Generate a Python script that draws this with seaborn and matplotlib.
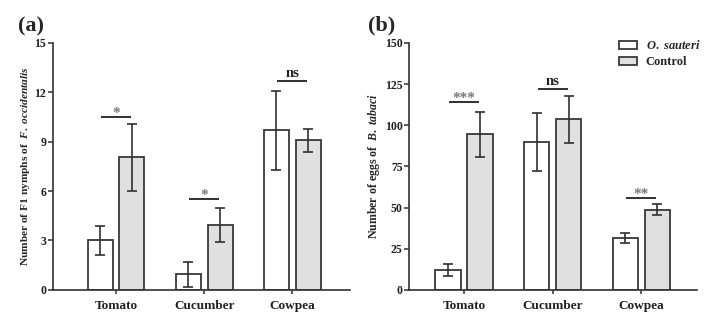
import numpy as np
import pandas as pd
import matplotlib
matplotlib.use("Agg")
import matplotlib.pyplot as plt
import seaborn as sns
from matplotlib.patches import Patch

sns.set_theme(style="ticks")
plt.rcParams["font.family"] = ["Liberation Serif", "DejaVu Serif"]
plt.rcParams["font.weight"] = "bold"
plt.rcParams["mathtext.fontset"] = "custom"
plt.rcParams["mathtext.it"] = "Liberation Serif:italic:bold"
plt.rcParams["mathtext.rm"] = "Liberation Serif:bold"

crops = ["Tomato", "Cucumber", "Cowpea"]
treatments = ["O. sauteri", "Control"]

# (a) F1 nymphs of F. occidentalis
nymph_sauteri = [3.0, 0.95, 9.7]
nymph_sauteri_sd = [0.9, 0.75, 2.4]
nymph_control = [8.05, 3.95, 9.1]
nymph_control_sd = [2.05, 1.05, 0.7]
nymph_sig = ["*", "*", "ns"]
nymph_sig_y = [10.5, 5.5, 12.7]

# (b) eggs of B. tabaci
egg_sauteri = [12.0, 90.0, 31.5]
egg_sauteri_sd = [3.8, 17.5, 3.2]
egg_control = [94.5, 103.5, 48.8]
egg_control_sd = [13.5, 14.5, 3.2]
egg_sig = ["***", "ns", "**"]
egg_sig_y = [114, 122, 56]

colors = {"O. sauteri": "white", "Control": "#e0e0e0"}
edge = "#383838"


def draw(ax, s_mean, s_sd, c_mean, c_sd, sig, sig_y, ymax, step, ylabel, lsize):
    df = pd.DataFrame({
        "crop": crops * 2,
        "treatment": [treatments[0]] * 3 + [treatments[1]] * 3,
        "mean": list(s_mean) + list(c_mean),
        "sd": list(s_sd) + list(c_sd),
    })
    sns.barplot(data=df, x="crop", y="mean", hue="treatment", order=crops,
                hue_order=treatments, palette=colors, width=0.72, gap=0.21,
                edgecolor=edge, linewidth=1.3, errorbar=None, legend=False, ax=ax)
    # error bars placed at each bar's centre
    for cont, (_, sub) in zip(ax.containers, df.groupby("treatment", sort=False)):
        for patch, (_, row) in zip(cont.patches, sub.iterrows()):
            xc = patch.get_x() + patch.get_width() / 2
            ax.errorbar(xc, row["mean"], yerr=row["sd"], fmt="none",
                        ecolor="#303030", elinewidth=1.2, capsize=3.6,
                        capthick=1.2, zorder=5)
    # significance brackets
    for i, (lab, yy) in enumerate(zip(sig, sig_y)):
        ax.plot([i - 0.17, i + 0.17], [yy, yy], color="#202020", lw=1.3,
                solid_capstyle="butt")
        if lab == "ns":
            ax.text(i, yy + ymax * 0.004, lab, ha="center", va="bottom",
                    fontsize=10.5, fontweight="bold", color="#202020")
        else:
            ax.text(i, yy - ymax * 0.012, lab, ha="center", va="bottom",
                    fontsize=11, fontweight="bold", color="#7a7a7a")
    ax.set_ylim(0, ymax)
    ax.set_yticks(np.arange(0, ymax + 0.01, step))
    ax.set_xlabel("")
    ax.set_ylabel(ylabel, fontsize=lsize, fontweight="bold", labelpad=2)
    sns.despine(ax=ax)
    for sp in ("left", "bottom"):
        ax.spines[sp].set_color("#303030")
        ax.spines[sp].set_linewidth(1.2)
    ax.tick_params(axis="both", colors="#303030", width=1.1, length=3.5,
                   labelcolor="#202020")
    ax.tick_params(axis="y", labelsize=8.5, pad=1.2, length=3.5)
    ax.tick_params(axis="x", length=3, labelsize=9.5, pad=4)
    for t in ax.get_xticklabels() + ax.get_yticklabels():
        t.set_fontweight("bold")


fig = plt.figure(figsize=(7.24, 3.25), dpi=100)
ax1 = fig.add_axes([0.073, 0.108, 0.410, 0.760])
ax2 = fig.add_axes([0.565, 0.108, 0.398, 0.760])

draw(ax1, nymph_sauteri, nymph_sauteri_sd, nymph_control, nymph_control_sd,
     nymph_sig, nymph_sig_y, 15, 3,
     r"Number of F1 nymphs of  $\mathit{F.\ occidentalis}$", 8.2)
ax1.set_xlim(-0.716, 2.65)

draw(ax2, egg_sauteri, egg_sauteri_sd, egg_control, egg_control_sd,
     egg_sig, egg_sig_y, 150, 25,
     r"Number of eggs of  $\mathit{B.\ tabaci}$", 8.6)
ax2.set_xlim(-0.62, 2.63)

handles = [Patch(facecolor=colors[t], edgecolor=edge, linewidth=1.3) for t in treatments]
leg = ax2.legend(handles, [r"$\mathit{O.\ sauteri}$", "Control"],
                 loc="upper right", bbox_to_anchor=(1.05, 1.06), frameon=False,
                 fontsize=9, handlelength=1.4, handleheight=0.6,
                 handletextpad=0.7, labelspacing=0.3)
for t in leg.get_texts():
    t.set_fontweight("bold")

fig.text(0.043, 0.918, "(a)", fontsize=16, fontweight="bold", ha="center", va="center")
fig.text(0.527, 0.921, "(b)", fontsize=16, fontweight="bold", ha="center", va="center")

fig.savefig("out.png", dpi=100)
